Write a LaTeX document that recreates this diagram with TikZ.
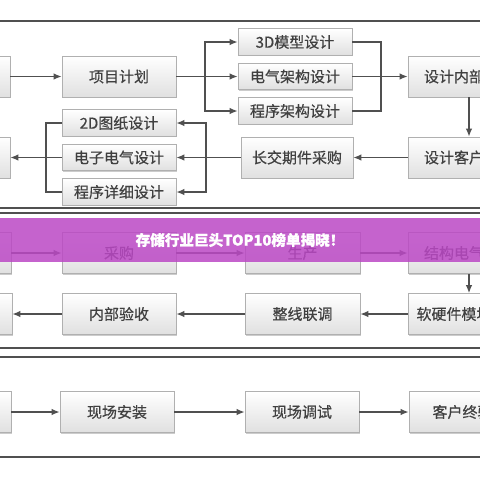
\documentclass[tikz,border=0pt]{standalone}
\usepackage{fontspec}
\newfontfamily\cjk{Noto Sans CJK SC}
\usetikzlibrary{arrows.meta,shadows}
\definecolor{lnc}{HTML}{505050}
\definecolor{bdc}{HTML}{B0B0B0}
\definecolor{bbc}{HTML}{E0E0E0}
\definecolor{txc}{HTML}{404040}
\definecolor{banc}{RGB}{187,72,197}
\tikzset{
  box/.style={draw=bdc, line width=0.7pt, top color=white, bottom color=bbc,
    inner sep=0pt, font=\cjk\fontsize{15}{15}\selectfont\addfontfeature{FakeBold=0.5}, text=txc,
    drop shadow={shadow xshift=1pt, shadow yshift=-1pt, opacity=0.2, fill=black}},
  big/.style={box, minimum width=#1, minimum height=41pt},
  small/.style={box, minimum width=114pt, minimum height=26.5pt},
  conn/.style={draw=lnc, line width=1.3pt},
  arr/.style={conn, -{Latex[length=8pt,width=6.5pt]}},
  frame/.style={draw=lnc, line width=1.2pt}
}
\begin{document}
\begin{tikzpicture}[x=1pt,y=-1pt]
\useasboundingbox (0,0) rectangle (480,480);
\clip (0,0) rectangle (480,480);
\fill[white] (0,0) rectangle (480,480);
% section frames
\draw[frame] (-10,21) -- (490,21);
\draw[frame] (-10,208) -- (490,208);
\draw[frame] (-10,213) -- (490,213);
\draw[frame] (-10,348) -- (490,348);
\draw[frame] (-10,357) -- (490,357);
\draw[frame] (-10,457) -- (490,457);
% section 1
\node[big=114pt] (L1) at (-47,76.5) {};
\node[big=114pt] (plan) at (119,76.5) {项目计划};
\node[small] (m3d) at (295,42) {3D模型设计};
\node[small] (mee) at (295,76.5) {电气架构设计};
\node[small] (mprog) at (295,111) {程序架构设计};
\node[big=122pt] (inner) at (469,76.5) {设计内部评审};
\node[big=122pt] (cust) at (469,157.5) {设计客户评审};
\node[big=112pt] (long) at (297,157.5) {长交期件采购};
\node[small] (d2d) at (119,123) {2D图纸设计};
\node[small] (dee) at (119,157.5) {电子电气设计};
\node[small] (dprog) at (119,192) {程序详细设计};
\node[big=114pt] (L2) at (-47,157.5) {};
\coordinate (j1) at (205,76.5);
\coordinate (j2) at (381,76.5);
\coordinate (j3) at (206,157.5);
\coordinate (j4) at (46,157.5);
\draw[arr] (L1.east) -- (plan.west);
\draw[arr] (plan.east) -- (j1) -- (mee.west);
\draw[arr] (j1) |- (m3d.west);
\draw[arr] (j1) |- (mprog.west);
\draw[conn] (m3d.east) -| (j2) |- (mprog.east);
\draw[arr] (mee.east) -- (inner.west);
\draw[arr] (inner.south) -- (cust.north);
\draw[arr] (cust.west) -- (long.east);
\draw[arr] (long.west) -- (j3) -- (dee.east);
\draw[arr] (j3) |- (d2d.east);
\draw[arr] (j3) |- (dprog.east);
\draw[conn] (d2d.west) -| (j4) |- (dprog.west);
\draw[arr] (dee.west) -- (L2.east);
% section 2
\node[big=114pt] (L3) at (-46,253) {};
\node[big=114pt] (buy) at (119,253) {采购};
\node[big=115pt] (prod) at (302.5,253) {生产};
\node[big=122pt] (struct) at (469,253) {结构电气装配};
\node[big=122pt] (soft) at (469,314) {软硬件模块测试};
\node[big=115pt] (line) at (302.5,314) {整线联调};
\node[big=114pt] (acc) at (119,314) {内部验收};
\node[big=114pt] (L4) at (-45,314) {};
\draw[arr] (L3.east) -- (buy.west);
\draw[arr] (buy.east) -- (prod.west);
\draw[arr] (prod.east) -- (struct.west);
\draw[arr] (struct.south) -- (soft.north);
\draw[arr] (soft.west) -- (line.east);
\draw[arr] (line.west) -- (acc.east);
\draw[arr] (acc.west) -- (L4.east);
% section 3
\node[big=114pt] (L5) at (-46,412) {};
\node[big=114pt] (inst) at (117,412) {现场安装};
\node[big=114pt] (debug) at (302,412) {现场调试};
\node[big=122pt] (final) at (470,412) {客户终验收};
\draw[arr] (L5.east) -- (inst.west);
\draw[arr] (inst.east) -- (debug.west);
\draw[arr] (debug.east) -- (final.west);
% banner
\fill[banc, opacity=0.85] (-5,218) rectangle (485,262);
\node[font=\cjk\bfseries\fontsize{14.6}{14.6}\selectfont\addfontfeature{FakeBold=1.2}, text=white, inner sep=0pt] (title) at (240,240) {存储行业巨头TOP10榜单揭晓！};
\end{tikzpicture}
\end{document}
